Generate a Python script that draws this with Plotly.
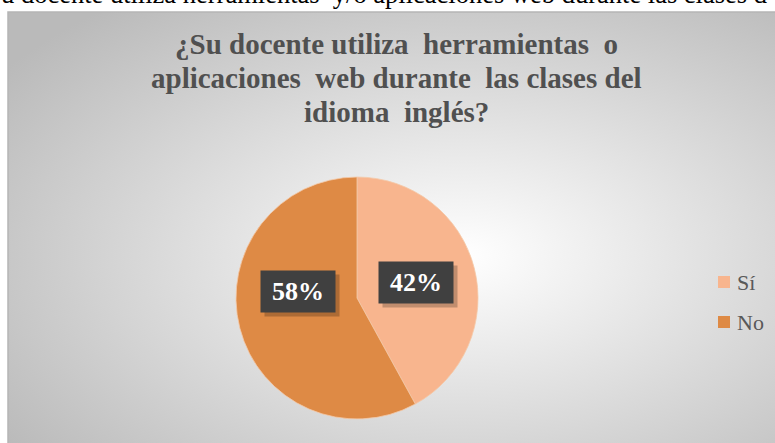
import base64
import math
import plotly.graph_objects as go

# data
labels = ["Sí", "No"]
values = [42, 58]
colors = ["#F8B58E", "#DE8A45"]

title_lines = ["¿Su docente utiliza  herramientas  o",
               "aplicaciones  web durante  las clases del",
               "idioma  inglés?"]
top_text = "u docente utiliza herramientas  y/o aplicaciones web durante las clases d"

W, H = 775, 443

def px(x):
    return x / W

def py(y):
    return 1 - y / H

# pie geometry (pixels)
cx, cy, R = 357, 298, 121

# radial gradient background for chart frame
svg = ('<svg xmlns="http://www.w3.org/2000/svg" width="780" height="440">'
       '<defs><radialGradient id="g" cx="0.58" cy="0.55" r="0.72">'
       '<stop offset="0" stop-color="#FFFFFF"/>'
       '<stop offset="1" stop-color="#BABABA"/>'
       '</radialGradient></defs>'
       '<rect width="780" height="440" fill="url(#g)"/></svg>')
bg = "data:image/svg+xml;base64," + base64.b64encode(svg.encode()).decode()

fig = go.Figure()
fig.add_trace(go.Pie(
    labels=labels, values=values, sort=False, direction="clockwise", rotation=0,
    marker=dict(colors=colors, line=dict(color="#F4C9A8", width=0.8)),
    textinfo="none", hoverinfo="label+percent", showlegend=False,
    domain=dict(x=[px(cx - R), px(cx + R)], y=[py(cy + R), py(cy - R)]),
))

# percentage labels in dark boxes, placed along each slice's mid-angle
total = sum(values)
cum = 0
annotations = []
for v in values:
    th = 2 * math.pi * (cum + v / 2) / total
    cum += v
    lx = cx + 0.5 * R * math.sin(th)
    ly = cy - 0.5 * R * math.cos(th)
    pct = "%d%%" % round(100 * v / total)
    # shadow
    annotations.append(dict(x=px(lx + 4), y=py(ly + 4), xref="paper", yref="paper",
                            text=" ", showarrow=False, width=72, height=39,
                            bgcolor="rgba(0,0,0,0.22)"))
    annotations.append(dict(x=px(lx), y=py(ly), xref="paper", yref="paper",
                            text="<b>" + pct + "</b>", showarrow=False,
                            width=72, height=39, bgcolor="#404040",
                            font=dict(family="Liberation Serif", size=26, color="white")))

# title, one line at a time
for i, line in enumerate(title_lines):
    annotations.append(dict(x=px(396), y=py(44 + 34 * i), xref="paper", yref="paper",
                            text="<b>" + line + "</b>", showarrow=False,
                            xanchor="center", yanchor="middle",
                            font=dict(family="Liberation Serif", size=29, color="#505050")))

annotations.append(dict(x=px(-1), y=py(-6), xref="paper", yref="paper",
                        text=top_text, showarrow=False, xanchor="left", yanchor="middle",
                        font=dict(family="Liberation Serif", size=26.5, color="black")))

# legend drawn by hand so the row spacing matches
shapes = [dict(type="rect", xref="paper", yref="paper", x0=px(8), x1=px(800),
               y0=py(460), y1=py(12), line=dict(color="#B5B5B5", width=1.5))]
for i, (lab, col) in enumerate(zip(labels, colors)):
    ly = 282 + 40 * i
    shapes.append(dict(type="rect", xref="paper", yref="paper",
                       x0=px(718), x1=px(730), y0=py(ly + 6), y1=py(ly - 6),
                       fillcolor=col, line=dict(width=0)))
    annotations.append(dict(x=px(735), y=py(ly), xref="paper", yref="paper",
                            text=lab, showarrow=False, xanchor="left", yanchor="middle",
                            font=dict(family="Liberation Serif", size=22, color="#595959")))

fig.update_layout(
    width=W, height=H,
    margin=dict(l=0, r=0, t=0, b=0),
    paper_bgcolor="white",
    showlegend=False,
    annotations=annotations,
    images=[dict(source=bg, xref="paper", yref="paper", x=px(8), y=py(12),
                 sizex=px(790) - px(8), sizey=1, sizing="stretch", layer="below")],
    shapes=shapes,
)

fig.write_html("out.html", config={"displayModeBar": False},
               post_script="document.body.style.margin='0';")
